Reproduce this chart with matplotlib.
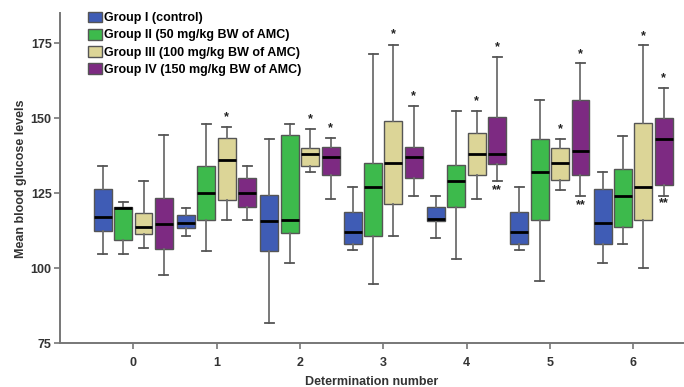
import matplotlib
matplotlib.use("Agg")
import matplotlib.pyplot as plt
from matplotlib.patches import Patch
import numpy as np

plt.rcParams['font.family'] = ['Liberation Sans', 'DejaVu Sans']

determinations = ['0', '1', '2', '3', '4', '5', '6']
groups = ['Group I (control)', 'Group II (50 mg/kg BW of AMC)',
          'Group III (100 mg/kg BW of AMC)', 'Group IV (150 mg/kg BW of AMC)']
colors = ['#3f5cb5', '#3dba4c', '#dcd597', '#7d2a82']

# five-number summaries per group, per determination (0..6)
g1_whislo = [104.9, 110.9, 81.9, 106.1, 110.0, 106.1, 101.9]
g1_q1     = [112.4, 113.4, 105.9, 108.0, 115.6, 108.0, 108.0]
g1_med    = [117.0, 115.0, 115.9, 112.0, 116.3, 112.0, 115.0]
g1_q3     = [126.5, 117.9, 124.4, 118.9, 120.3, 118.9, 126.3]
g1_whishi = [134.1, 120.2, 143.2, 127.2, 124.2, 127.2, 132.1]

g2_whislo = [104.9, 105.9, 101.9, 94.8, 103.0, 95.9, 108.0]
g2_q1     = [109.3, 116.0, 111.6, 110.9, 120.3, 116.1, 113.9]
g2_med    = [120.1, 125.0, 116.0, 127.0, 129.1, 132.1, 124.1]
g2_q3     = [120.3, 134.0, 144.4, 135.0, 134.4, 143.1, 133.0]
g2_whishi = [122.1, 148.1, 148.2, 171.3, 152.4, 156.2, 144.2]

g3_whislo = [106.9, 116.0, 132.1, 110.9, 123.0, 126.1, 100.0]
g3_q1     = [111.3, 122.7, 134.1, 121.5, 131.1, 129.5, 116.1]
g3_med    = [113.9, 136.0, 138.2, 135.2, 138.1, 135.2, 127.1]
g3_q3     = [118.4, 143.5, 140.2, 149.2, 145.0, 140.0, 148.5]
g3_whishi = [129.1, 147.2, 146.3, 174.4, 152.4, 143.2, 174.4]

g4_whislo = [97.9, 116.0, 123.0, 124.1, 129.1, 124.1, 124.1]
g4_q1     = [106.3, 120.4, 131.1, 130.0, 134.7, 131.1, 127.7]
g4_med    = [114.9, 125.0, 137.2, 137.2, 138.1, 139.1, 143.2]
g4_q3     = [123.5, 130.0, 140.5, 140.5, 150.5, 156.1, 150.2]
g4_whishi = [144.3, 134.1, 143.3, 154.2, 170.3, 168.3, 160.2]

# significance marks (y positions, NaN = none)
nan = np.nan
g3_star   = [nan, 150.5, 149.7, 178.0, 155.8, 146.5, 177.5]
g4_star   = [nan, nan, 146.7, 157.4, 173.7, 171.5, 163.3]
g4_dstar  = [nan, nan, nan, nan, 125.9, 120.9, 121.7]

summaries = [
    (g1_whislo, g1_q1, g1_med, g1_q3, g1_whishi),
    (g2_whislo, g2_q1, g2_med, g2_q3, g2_whishi),
    (g3_whislo, g3_q1, g3_med, g3_q3, g3_whishi),
    (g4_whislo, g4_q1, g4_med, g4_q3, g4_whishi),
]

fig = plt.figure(figsize=(6.84, 3.87), dpi=100)
ax = fig.add_axes([0.0877, 0.1129, 0.9123, 0.853])

x = np.arange(len(determinations))
offs = np.array([-1.5, -0.5, 0.5, 1.5]) * 0.245
width = 0.215

for gi, (wl, q1, md, q3, wh) in enumerate(summaries):
    stats = [dict(whislo=wl[i], q1=q1[i], med=md[i], q3=q3[i], whishi=wh[i], fliers=[])
             for i in range(len(determinations))]
    ax.bxp(stats, positions=x + offs[gi], widths=width, patch_artist=True,
           showfliers=False,
           boxprops=dict(facecolor=colors[gi], edgecolor='#555555', linewidth=1.0),
           medianprops=dict(color='black', linewidth=2.0),
           whiskerprops=dict(color='#6e6e6e', linewidth=1.3),
           capprops=dict(color='#555555', linewidth=1.3),
           capwidths=width * 0.5, zorder=3)

star_kw = dict(ha='center', va='center', fontsize=9, fontweight='bold', color='#222222')
for i in range(len(determinations)):
    if not np.isnan(g3_star[i]):
        ax.text(x[i] + offs[2], g3_star[i], '*', **star_kw)
    if not np.isnan(g4_star[i]):
        ax.text(x[i] + offs[3], g4_star[i], '*', **star_kw)
    if not np.isnan(g4_dstar[i]):
        ax.text(x[i] + offs[3], g4_dstar[i], '**', **star_kw)

ax.set_xlim(-0.88, 6.61)
ax.set_ylim(75, 185)
ax.set_xticks(x)
ax.set_xticklabels(determinations)
ax.set_yticks([75, 100, 125, 150, 175])

for s in ['top', 'right']:
    ax.spines[s].set_visible(False)
for s in ['left', 'bottom']:
    ax.spines[s].set_color('#777777')
    ax.spines[s].set_linewidth(1.4)
ax.tick_params(axis='both', colors='#777777', length=4, width=1.2, labelsize=9)
for lab in ax.get_xticklabels() + ax.get_yticklabels():
    lab.set_color('#333333')
    lab.set_fontweight('bold')
ax.tick_params(axis='x', pad=6)
ax.tick_params(axis='y', pad=2)

ax.set_xlabel('Determination number', fontsize=9, fontweight='bold', color='#333333', labelpad=5)
ax.set_ylabel('Mean blood glucose levels', fontsize=9, fontweight='bold', color='#333333')
ax.yaxis.set_label_coords(-0.053, 0.5)

handles = [Patch(facecolor=c, edgecolor='#555555', linewidth=1.0) for c in colors]
ax.legend(handles, groups, loc='upper left', bbox_to_anchor=(0.045, 1.005), frameon=False,
          prop=dict(size=9, weight='bold'), handlelength=1.15, handleheight=0.95,
          handletextpad=0.12, labelspacing=0.36, borderpad=0.0, borderaxespad=0.0)

fig.savefig('out.png', dpi=100)
